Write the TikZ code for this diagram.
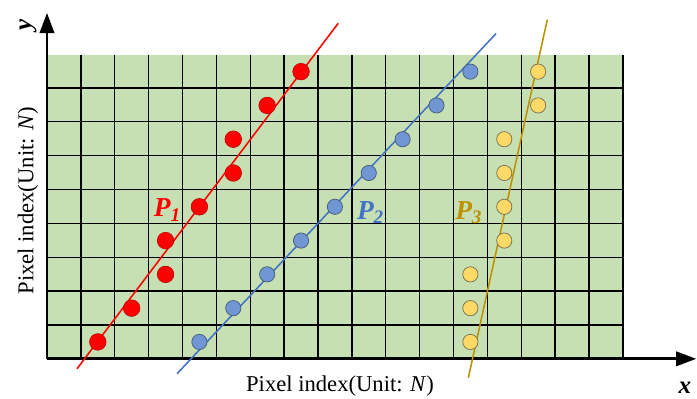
\documentclass[tikz,border=0pt]{standalone}
\usepackage{fontspec}
\setmainfont{Liberation Serif}
\usetikzlibrary{arrows.meta}
\definecolor{gridgreen}{RGB}{198,224,180}
\definecolor{reddot}{RGB}{255,0,0}
\definecolor{redrim}{RGB}{192,0,0}
\definecolor{bluefill}{RGB}{112,150,212}
\definecolor{bluerim}{RGB}{70,90,120}
\definecolor{blueline}{RGB}{68,114,196}
\definecolor{yellowfill}{RGB}{255,217,102}
\definecolor{yellowrim}{RGB}{120,110,80}
\definecolor{goldline}{RGB}{191,144,0}
\tikzset{
  reddotst/.style={circle,fill=reddot,draw=redrim,line width=0.5pt,minimum size=0.49cm,inner sep=0pt},
  bluedotst/.style={circle,fill=bluefill,draw=bluerim,line width=0.6pt,minimum size=0.45cm,inner sep=0pt},
  yellowdotst/.style={circle,fill=yellowfill,draw=yellowrim,line width=0.6pt,minimum size=0.45cm,inner sep=0pt},
  fitline/.style={line width=1.3pt},
  axisline/.style={line width=2.4pt,-{Triangle[length=17pt,width=12pt]}},
  axlabel/.style={font=\fontsize{19}{22}\selectfont},
  plabel/.style={font=\fontsize{23}{26}\selectfont\bfseries\itshape},
}
\begin{document}
\begin{tikzpicture}[x=1cm,y=0.9975cm]
\useasboundingbox (-1.387,-1.187) rectangle (19.19,10.62);
% grid
\fill[gridgreen] (0,0) rectangle (17,9);
\draw[line width=1.15pt,black] (0,0) grid (17,9);
% axes
\coordinate (O) at (0,0);
\coordinate (ytip) at (0,10.24);
\coordinate (xtip) at (19.17,0);
\draw[axisline] (O) -- (ytip);
\draw[axisline] (O) -- (xtip);
\node[rotate=90,font=\fontsize{21}{24}\selectfont\bfseries\itshape] (ylab) at (-0.56,9.88) {y};
\node[font=\fontsize{21}{24}\selectfont\bfseries\itshape] (xlab) at (18.83,-0.86) {x};
\node[axlabel] (xname) at (8.65,-0.80) {Pixel index(Unit: \textit{N})};
\node[axlabel,rotate=90] (yname) at (-0.56,4.68) {Pixel index(Unit: \textit{N})};
% fit lines
\coordinate (r1) at (0.886,-0.295);
\coordinate (r2) at (8.597,9.93);
\coordinate (b1) at (3.84,-0.44);
\coordinate (b2) at (13.26,9.63);
\coordinate (g1) at (12.44,-0.56);
\coordinate (g2) at (14.77,10.04);
\draw[fitline,reddot] (r1) -- (r2);
\draw[fitline,blueline] (b1) -- (b2);
\draw[fitline,goldline] (g1) -- (g2);
% red dots
\foreach \x/\y [count=\i] in {1.5/0.5,2.5/1.5,3.5/2.5,3.5/3.5,4.5/4.5,5.5/5.5,5.5/6.5,6.5/7.5,7.5/8.5}
  \node[reddotst] (rd\i) at (\x,\y) {};
% blue dots
\foreach \x/\y [count=\i] in {4.5/0.5,5.5/1.5,6.5/2.5,7.5/3.5,8.5/4.5,9.5/5.5,10.5/6.5,11.5/7.5,12.5/8.5}
  \node[bluedotst] (bd\i) at (\x,\y) {};
% yellow dots
\foreach \x/\y [count=\i] in {12.5/0.5,12.5/1.5,12.5/2.5,13.5/3.5,13.5/4.5,13.5/5.5,13.5/6.5,14.5/7.5,14.5/8.5}
  \node[yellowdotst] (yd\i) at (\x,\y) {};
% labels
\node[plabel,text=reddot] (p1) at (3.55,4.40) {P\textsubscript{1}};
\node[plabel,text=blueline] (p2) at (9.55,4.33) {P\textsubscript{2}};
\node[plabel,text=goldline] (p3) at (12.45,4.33) {P\textsubscript{3}};
\end{tikzpicture}
\end{document}
